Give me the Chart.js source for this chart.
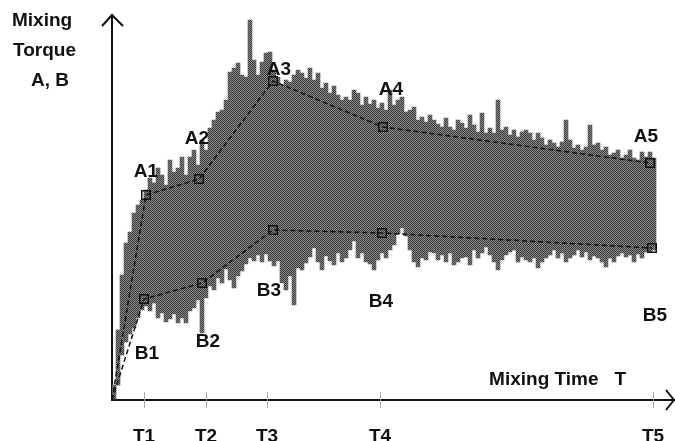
<!DOCTYPE html>
<html>
<head>
<meta charset="utf-8">
<script src="https://cdn.jsdelivr.net/npm/chart.js@4.4.1/dist/chart.umd.min.js"></script>
<style>
  html, body { margin: 0; padding: 0; background: #fff; }
  canvas { display: block; }
</style>
</head>
<body>
<canvas id="myChart" width="675" height="441"></canvas>
<script>
// time axis marks
const tickNames = ['T1', 'T2', 'T3', 'T4', 'T5'];
const tickTimes = [32, 94, 155, 268, 541];

// upper torque points A1..A5 and lower torque points B1..B5
const aNames = ['A1', 'A2', 'A3', 'A4', 'A5'];
const aTimes = [34, 87, 161, 271, 538];
const aTorque = [205, 221, 319, 273, 237];
const bNames = ['B1', 'B2', 'B3', 'B4', 'B5'];
const bTimes = [32, 90, 161, 270, 540];
const bTorque = [101, 117, 170, 167, 152];

// raw torque signal, read as max / min per sample
const sampleTimes = [
  2, 6, 10, 14, 18, 22, 26, 30, 34, 38, 42, 46, 50, 54, 58, 62, 66, 70, 74, 78,
  82, 86, 90, 94, 98, 102, 106, 110, 114, 118, 122, 126, 130, 134, 138, 142, 146, 150, 154, 158,
  162, 166, 170, 174, 178, 182, 186, 190, 194, 198, 202, 206, 210, 214, 218, 222, 226, 230, 234, 238,
  242, 246, 250, 254, 258, 262, 266, 270, 274, 278, 282, 286, 290, 294, 298, 302, 306, 310, 314, 318,
  322, 326, 330, 334, 338, 342, 346, 350, 354, 358, 362, 366, 370, 374, 378, 382, 386, 390, 394, 398,
  402, 406, 410, 414, 418, 422, 426, 430, 434, 438, 442, 446, 450, 454, 458, 462, 466, 470, 474, 478,
  482, 486, 490, 494, 498, 502, 506, 510, 514, 518, 522, 526, 530, 534, 538, 542
];
const torqueHigh = [
  15, 70, 125, 157, 168, 187, 195, 200, 210, 222, 217, 232, 225, 215, 240, 228, 232, 243, 225, 243,
  250, 235, 260, 250, 272, 280, 288, 290, 300, 328, 332, 337, 325, 323, 380, 340, 325, 338, 347, 348,
  330, 323, 315, 320, 318, 325, 330, 327, 322, 332, 320, 327, 312, 317, 307, 314, 305, 300, 303, 300,
  310, 307, 295, 303, 296, 300, 292, 297, 290, 310, 295, 300, 303, 288, 290, 293, 280, 283, 278, 285,
  280, 276, 273, 282, 273, 270, 280, 277, 272, 285, 275, 268, 287, 267, 272, 267, 300, 270, 273, 265,
  270, 263, 268, 270, 267, 260, 267, 262, 255, 260, 257, 253, 258, 280, 260, 252, 255, 250, 253, 275,
  255, 257, 250, 253, 245, 247, 250, 242, 245, 250, 242, 240, 248, 243, 248, 242
];
const torqueLow = [
  1, 15, 45, 58, 66, 72, 82, 90, 94, 89, 97, 82, 87, 78, 81, 86, 77, 82, 77, 89,
  92, 100, 67, 102, 114, 110, 122, 117, 131, 120, 112, 124, 129, 136, 142, 139, 145, 138, 146, 139,
  134, 139, 117, 110, 124, 95, 132, 130, 137, 143, 152, 138, 130, 144, 139, 135, 147, 138, 142, 150,
  159, 142, 147, 138, 136, 130, 140, 147, 142, 150, 155, 166, 172, 164, 150, 138, 133, 142, 140, 148,
  147, 140, 145, 138, 147, 135, 138, 142, 143, 135, 150, 142, 147, 153, 145, 138, 130, 140, 145, 148,
  150, 138, 143, 140, 138, 142, 132, 138, 142, 145, 150, 142, 147, 138, 142, 145, 150, 143, 148, 140,
  144, 142, 138, 133, 142, 138, 144, 147, 143, 145, 138, 146, 142, 148, 148, 150
];

const INK = '#111';
const FONT = 'bold 19px "Liberation Sans", Arial, sans-serif';

function pointsOf(times, values) {
  // both curves start at the origin
  return [{ x: 0, y: 0 }].concat(times.map((t, i) => ({ x: t, y: values[i] })));
}

// halftone look of the scanned signal band
function makeScreen(ctx) {
  const tile = document.createElement('canvas');
  tile.width = 2;
  tile.height = 2;
  const t = tile.getContext('2d');
  t.fillStyle = '#8c8c8c';
  t.fillRect(0, 0, 2, 2);
  t.fillStyle = '#383838';
  t.fillRect(0, 0, 1, 1);
  t.fillRect(1, 1, 1, 1);
  return ctx.createPattern(tile, 'repeat');
}

const decorations = {
  id: 'decorations',
  afterDatasetsDraw(chart) {
    const ctx = chart.ctx;
    const area = chart.chartArea;
    const xs = chart.scales.x;
    const ys = chart.scales.y;
    ctx.save();

    // tick marks across the time axis
    ctx.strokeStyle = '#aaa';
    ctx.lineWidth = 1;
    tickTimes.forEach(t => {
      const px = Math.round(xs.getPixelForValue(t)) + 0.5;
      ctx.beginPath();
      ctx.moveTo(px, area.bottom - 8);
      ctx.lineTo(px, area.bottom + 8);
      ctx.stroke();
    });

    // arrow heads
    ctx.strokeStyle = INK;
    ctx.lineWidth = 2;
    ctx.beginPath();
    ctx.moveTo(area.left - 10, area.top + 11);
    ctx.lineTo(area.left, area.top);
    ctx.lineTo(area.left + 11, area.top + 11);
    ctx.stroke();
    ctx.beginPath();
    ctx.moveTo(area.right - 8, area.bottom - 10);
    ctx.lineTo(area.right, area.bottom);
    ctx.lineTo(area.right - 8, area.bottom + 10);
    ctx.stroke();

    // point names
    ctx.fillStyle = INK;
    ctx.font = FONT;
    ctx.textAlign = 'center';
    ctx.textBaseline = 'middle';
    const aOff = [[0, -23], [-2, -40], [6, -11], [8, -37], [-4, -26]];
    const bOff = [[3, 55], [6, 59], [-4, 61], [-1, 69], [3, 68]];
    aNames.forEach((n, i) => {
      ctx.fillText(n, xs.getPixelForValue(aTimes[i]) + aOff[i][0], ys.getPixelForValue(aTorque[i]) + aOff[i][1]);
    });
    bNames.forEach((n, i) => {
      ctx.fillText(n, xs.getPixelForValue(bTimes[i]) + bOff[i][0], ys.getPixelForValue(bTorque[i]) + bOff[i][1]);
    });

    // axis titles
    ctx.textAlign = 'left';
    ctx.fillText('Mixing', 12, 21);
    ctx.fillText('Torque', 13, 51);
    ctx.fillText('A, B', 31, 81);
    ctx.textAlign = 'right';
    ctx.fillText('Mixing Time   T', 626, 380);
    ctx.restore();
  }
};

function createChart() {
  const ctx = document.getElementById('myChart').getContext('2d');
  const lineStyle = {
    type: 'line',
    borderColor: INK,
    borderWidth: 1.5,
    borderDash: [5, 3],
    pointStyle: 'rect',
    pointRadius: [0, 6, 6, 6, 6, 6],
    pointBorderWidth: 1.5,
    pointBorderColor: INK,
    pointBackgroundColor: 'rgba(0,0,0,0)',
    tension: 0,
    fill: false,
    order: 1
  };
  new Chart(ctx, {
    type: 'bar',
    data: {
      datasets: [
        Object.assign({ label: 'A', data: pointsOf(aTimes, aTorque) }, lineStyle),
        Object.assign({ label: 'B', data: pointsOf(bTimes, bTorque) }, lineStyle),
        {
          type: 'bar',
          label: 'signal',
          data: sampleTimes.map((t, i) => ({ x: t, y: [torqueLow[i], torqueHigh[i]] })),
          backgroundColor: makeScreen(ctx),
          borderWidth: 0,
          barPercentage: 1,
          categoryPercentage: 1,
          grouped: false,
          order: 2
        }
      ]
    },
    options: {
      responsive: false,
      animation: false,
      devicePixelRatio: 1,
      layout: { autoPadding: false, padding: { left: 112, right: 1, top: 15, bottom: 0 } },
      plugins: { legend: { display: false }, tooltip: { enabled: false } },
      scales: {
        x: {
          type: 'linear',
          min: 0,
          max: 562,
          offset: false,
          grid: { display: false },
          border: { display: true, color: INK, width: 2 },
          afterBuildTicks: scale => { scale.ticks = tickTimes.map(v => ({ value: v })); },
          afterFit: scale => {
            scale.height = 41;
            scale.paddingLeft = 0;
            scale.paddingRight = 0;
          },
          ticks: {
            autoSkip: false,
            maxRotation: 0,
            padding: 17,
            color: INK,
            font: { family: '"Liberation Sans", Arial, sans-serif', size: 19, weight: 'bold' },
            callback: (v, i) => tickNames[i]
          }
        },
        y: {
          min: 0,
          max: 385,
          grid: { display: false },
          border: { display: true, color: INK, width: 2 },
          ticks: { display: false },
          afterFit: scale => { scale.width = 0; }
        }
      }
    },
    plugins: [decorations]
  });
}

document.addEventListener('DOMContentLoaded', () => {
  createChart();
});
</script>
</body>
</html>
